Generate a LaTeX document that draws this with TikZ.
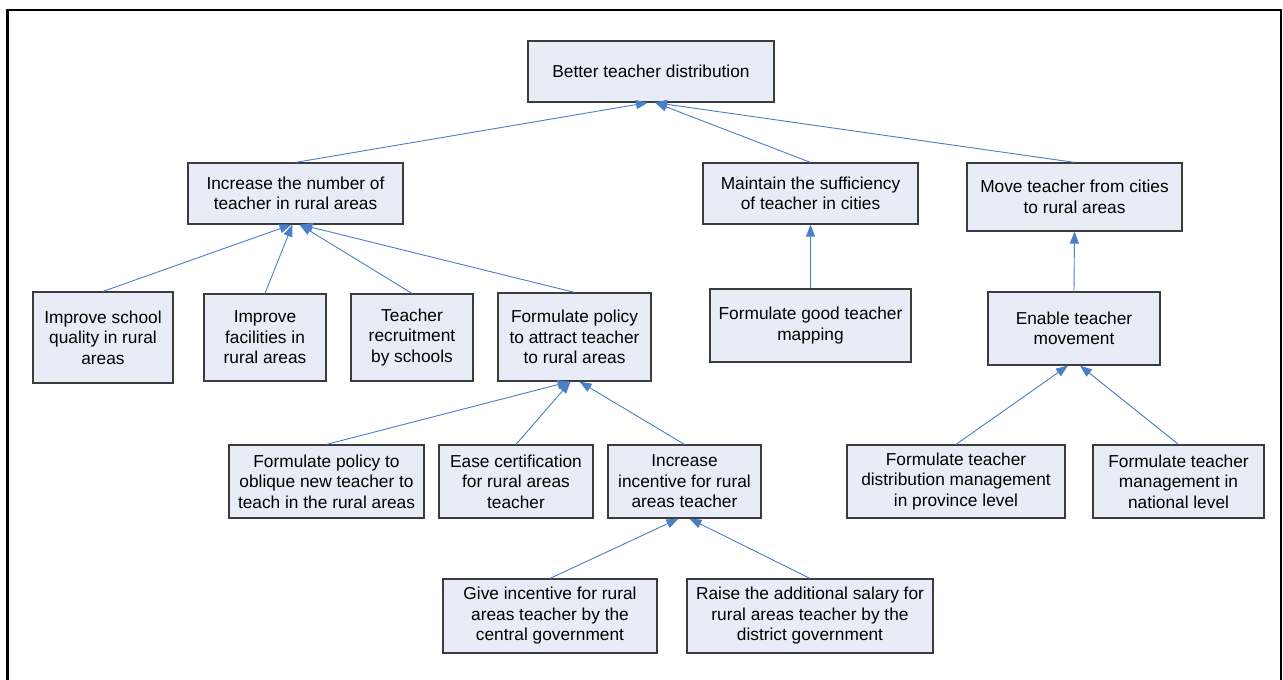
\documentclass[tikz,border=0pt]{standalone}
\usepackage{fontspec}
\setmainfont{Liberation Sans}
\usetikzlibrary{arrows.meta}
\definecolor{boxfill}{RGB}{231,236,247}
\definecolor{boxline}{RGB}{60,60,60}
\definecolor{linkblue}{RGB}{74,126,199}
\begin{document}
\begin{tikzpicture}[x=1pt,y=-1pt,
  goal/.style={draw=boxline, line width=1.2pt, fill=boxfill, align=center,
    inner sep=2pt, font=\fontsize{17.3}{20.5}\selectfont},
  link/.style={draw=linkblue, line width=0.9pt,
    -{Triangle[length=12pt,width=9pt,fill=linkblue]}}]
\useasboundingbox (0,0) rectangle (1283,680);
% outer frame
\begin{scope}
\clip (0,0) rectangle (1283,680);
\draw[line width=2.6pt, black] (7.5,10) rectangle (1281,720);
\end{scope}

% level 0
\node[goal, minimum width=246pt, minimum height=61pt] (top) at (651,71.5) {Better teacher distribution};
% level 1
\node[goal, minimum width=215pt, minimum height=61pt] (inc) at (295.5,193.5) {Increase the number of\\teacher in rural areas};
\node[goal, minimum width=215pt, minimum height=61pt] (maint) at (810.5,193.5) {Maintain the sufficiency\\of teacher in cities};
\node[goal, minimum width=215pt, minimum height=68pt] (move) at (1074.5,197) {Move teacher from cities\\to rural areas};
% level 2
\node[goal, minimum width=140pt, minimum height=91pt] (school) at (103,337.5) {Improve school\\quality in rural\\areas};
\node[goal, minimum width=122pt, minimum height=87pt] (facil) at (265,337.5) {Improve\\facilities in\\rural areas};
\node[goal, minimum width=122pt, minimum height=87pt] (recruit) at (412,337.5) {Teacher\\recruitment\\by schools};
\node[goal, minimum width=153pt, minimum height=88pt] (policy) at (574.5,337) {Formulate policy\\to attract teacher\\to rural areas};
\node[goal, minimum width=201pt, minimum height=73pt] (mapping) at (810.5,325.5) {Formulate good teacher\\mapping};
\node[goal, minimum width=172pt, minimum height=73pt] (enable) at (1074,328.5) {Enable teacher\\movement};
% level 3
\node[goal, minimum width=195pt, minimum height=73pt] (oblique) at (326.5,481.5) {Formulate policy to\\oblique new teacher to\\teach in the rural areas};
\node[goal, minimum width=154pt, minimum height=73pt] (ease) at (516,481.5) {Ease certification\\for rural areas\\teacher};
\node[goal, minimum width=153pt, minimum height=73pt] (incent) at (684.5,481.5) {Increase\\incentive for rural\\areas teacher};
\node[goal, minimum width=218pt, minimum height=73pt] (province) at (956,481.5) {Formulate teacher\\distribution management\\in province level};
\node[goal, minimum width=171pt, minimum height=73pt] (national) at (1178.5,481.5) {Formulate teacher\\management in\\national level};
% level 4
\node[goal, minimum width=214pt, minimum height=74pt] (give) at (550,616) {Give incentive for rural\\areas teacher by the\\central government};
\node[goal, minimum width=246pt, minimum height=74pt] (raise) at (810,616) {Raise the additional salary for\\rural areas teacher by the\\district government};

% connectors, each pointing up to its parent
\draw[link] (inc.north) -- ([xshift=-3pt]top.south);
\draw[link] (maint.north) -- ([xshift=4pt]top.south);
\draw[link] (move.north) -- ([xshift=4pt]top.south);

\draw[link] (school.north) -- ([xshift=-4pt]inc.south);
\draw[link] (facil.north) -- ([xshift=-3pt]inc.south);
\draw[link] (recruit.north) -- ([xshift=4pt]inc.south);
\draw[link] (policy.north) -- ([xshift=5pt]inc.south);

\draw[link] (mapping.north) -- (maint.south);
\draw[link] (enable.north) -- (move.south);

\draw[link] (oblique.north) -- ([xshift=-5pt]policy.south);
\draw[link] (ease.north) -- ([xshift=-4pt]policy.south);
\draw[link] (incent.north) -- ([xshift=5pt]policy.south);

\draw[link] (give.north) -- ([xshift=-6pt]incent.south);
\draw[link] (raise.north) -- ([xshift=5pt]incent.south);

\draw[link] (province.north) -- ([xshift=-6pt]enable.south);
\draw[link] (national.north) -- ([xshift=6pt]enable.south);
\end{tikzpicture}
\end{document}
